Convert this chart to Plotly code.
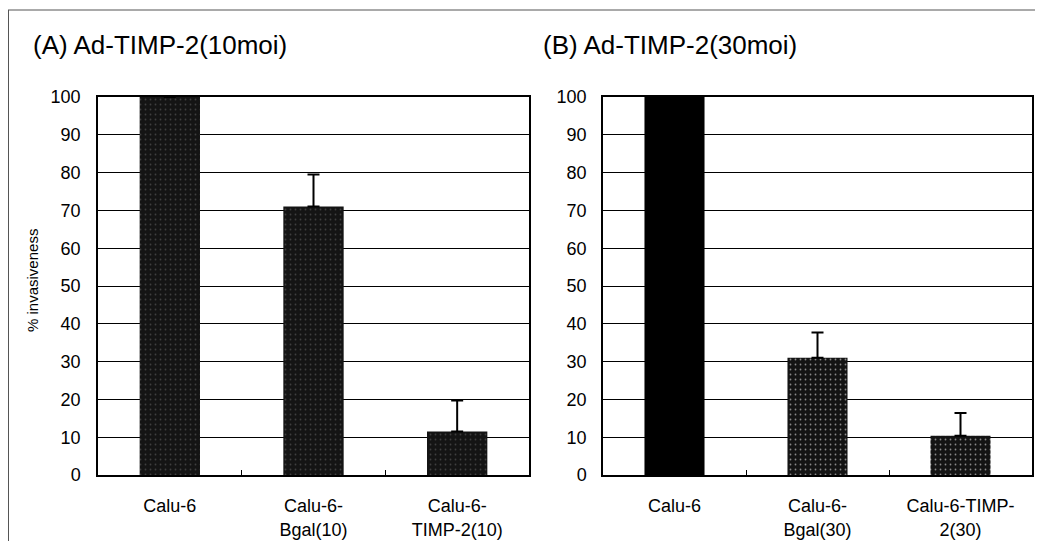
import plotly.graph_objects as go

categories_a = ["Calu-6", "Calu-6-<br>Bgal(10)", "Calu-6-<br>TIMP-2(10)"]
values_a = [100, 71, 11.5]
errors_a = [None, 8.5, 8.2]

categories_b = ["Calu-6", "Calu-6-<br>Bgal(30)", "Calu-6-TIMP-<br>2(30)"]
values_b = [100, 31, 10.4]
errors_b = [None, 6.7, 6.0]

y_ticks = list(range(0, 101, 10))

title_a = "(A) Ad-TIMP-2(10moi)"
title_b = "(B) Ad-TIMP-2(30moi)"
y_title = "% invasiveness"

FONT = "Liberation Sans, Arial, sans-serif"

speckle = dict(shape=".", fgcolor="#6a6a6a", bgcolor="#141414", size=5, solidity=0.1)

fig = go.Figure()
fig.add_trace(go.Bar(
    x=categories_a, y=values_a, xaxis="x", yaxis="y",
    marker=dict(color="#141414", pattern=speckle, line=dict(width=0)),
    error_y=dict(type="data", symmetric=False, array=errors_a, arrayminus=[0, 0, 0],
                 color="black", thickness=2, width=6),
    showlegend=False,
))
fig.add_trace(go.Bar(
    x=categories_b, y=values_b, xaxis="x2", yaxis="y2",
    marker=dict(color=["#000000", "#141414", "#141414"],
                pattern=dict(shape=["", ".", "."], fgcolor="#6a6a6a",
                             bgcolor=["#000000", "#141414", "#141414"], size=5, solidity=0.1),
                line=dict(width=0)),
    error_y=dict(type="data", symmetric=False, array=errors_b, arrayminus=[0, 0, 0],
                 color="black", thickness=2, width=6),
    showlegend=False,
))

# page body has an 8px default margin; figure is sized to fit the window
OFF = 8
W, H = 1043 - OFF, 541 - OFF
ml, mr, mt, mb = 98 - OFF, 11, 97 - OFF, 66
pw = W - ml - mr
ph = H - mt - mb

def px_x(p):
    return (p - OFF - ml) / pw

def px_y(p):
    return (H - mb - (p - OFF)) / ph

xa = dict(
    showline=True, linecolor="black", linewidth=1.5, mirror=True,
    ticks="inside", tickson="boundaries", ticklen=5, tickcolor="black", tickwidth=1,
    showgrid=False, tickfont=dict(family=FONT, size=18, color="black"),
    ticklabelstandoff=14, automargin=False, fixedrange=True,
)
ya = dict(
    range=[0, 100], tickvals=y_ticks, showline=True, linecolor="black", linewidth=1.5,
    mirror=True, showgrid=True, gridcolor="black", gridwidth=1, ticks="",
    tickfont=dict(family=FONT, size=18, color="black"), zeroline=False,
    automargin=False, fixedrange=True,
)

fig.update_layout(
    width=W, height=H,
    margin=dict(l=ml, r=mr, t=mt, b=mb),
    paper_bgcolor="white", plot_bgcolor="white",
    bargap=0.58,
    xaxis=dict(xa, domain=[0, px_x(529)], anchor="y"),
    yaxis=dict(ya, anchor="x", domain=[0, 1], ticklabelstandoff=12),
    xaxis2=dict(xa, domain=[px_x(603), 1], anchor="y2"),
    yaxis2=dict(ya, anchor="x2", domain=[0, 1], ticklabelstandoff=11),
    annotations=[
        dict(text=title_a, xref="paper", yref="paper", x=px_x(31), y=px_y(45),
             xanchor="left", yanchor="middle", showarrow=False,
             font=dict(family=FONT, size=26, color="black")),
        dict(text=title_b, xref="paper", yref="paper", x=px_x(541), y=px_y(45),
             xanchor="left", yanchor="middle", showarrow=False,
             font=dict(family=FONT, size=26, color="black")),
        dict(text=y_title, xref="paper", yref="paper", x=px_x(32), y=px_y(281),
             xanchor="center", yanchor="middle", textangle=-90, showarrow=False,
             font=dict(family=FONT, size=15, color="black")),
    ],
    shapes=[
        dict(type="line", xref="paper", yref="paper", x0=px_x(8), x1=px_x(1043),
             y0=px_y(10), y1=px_y(10), line=dict(color="#555555", width=1)),
        dict(type="line", xref="paper", yref="paper", x0=px_x(8.5), x1=px_x(8.5),
             y0=px_y(10), y1=px_y(541), line=dict(color="#555555", width=1)),
    ],
)

fig.write_html("out.html")
